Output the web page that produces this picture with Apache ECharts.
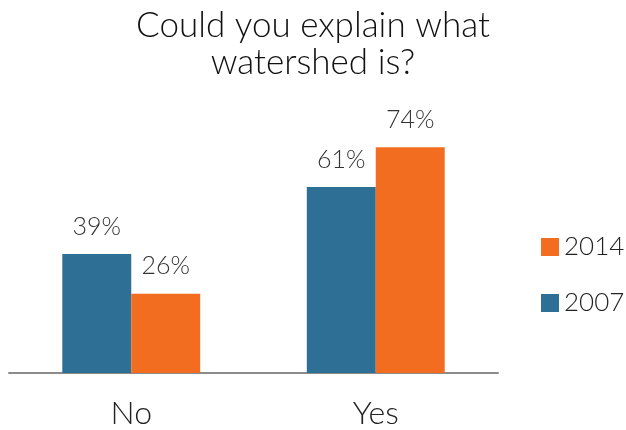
<!DOCTYPE html>
<html>
<head>
<meta charset="utf-8">
<script src="https://cdn.jsdelivr.net/npm/echarts@6/dist/echarts.min.js"></script>
<style>
html,body{margin:0;padding:0;background:#fff;}
#c{width:626px;height:430px;}
</style>
</head>
<body>
<div id="c"></div>
<script>
const categories = ['No', 'Yes'];
const values2007 = [39, 61];
const values2014 = [26, 74];
const seriesNames = ['2007', '2014'];

const FONT = 'Lato';
const chart = echarts.init(document.getElementById('c'), null, {renderer: 'canvas'});
const labelStyle = {
  show: true, position: 'top', distance: 15,
  formatter: p => p.value + '%',
  fontFamily: FONT, fontWeight: 300, fontSize: 25, color: '#333'
};
chart.setOption({
  animation: false,
  backgroundColor: '#fff',
  title: {
    text: 'Could you explain what\nwatershed is?',
    left: 'center', top: 2,
    textStyle: {fontFamily: FONT, fontWeight: 300, fontSize: 35, lineHeight: 37, color: '#111'}
  },
  legend: {
    orient: 'vertical',
    left: 541, top: 234, padding: 0,
    itemWidth: 18, itemHeight: 18, itemGap: 30,
    data: [seriesNames[1], seriesNames[0]],
    textStyle: {fontFamily: FONT, fontWeight: 300, fontSize: 26, color: '#222'},
    icon: 'rect'
  },
  grid: {left: 9, right: 128, top: 68, bottom: 57, containLabel: false},
  xAxis: {
    type: 'category', data: categories,
    axisLine: {lineStyle: {color: '#8c8c8c', width: 2}},
    axisTick: {show: false},
    axisLabel: {fontFamily: FONT, fontWeight: 300, fontSize: 32, color: '#222', margin: 25}
  },
  yAxis: {
    type: 'value', min: 0, max: 100, show: false,
    splitLine: {show: false}
  },
  series: [
    {name: seriesNames[0], type: 'bar', data: values2007, barWidth: '28.2%', barGap: '0%',
     itemStyle: {color: '#2e6f95'}, label: labelStyle},
    {name: seriesNames[1], type: 'bar', data: values2014, barWidth: '28.2%', barGap: '0%',
     itemStyle: {color: '#f36d21'}, label: labelStyle}
  ]
});
</script>
</body>
</html>
